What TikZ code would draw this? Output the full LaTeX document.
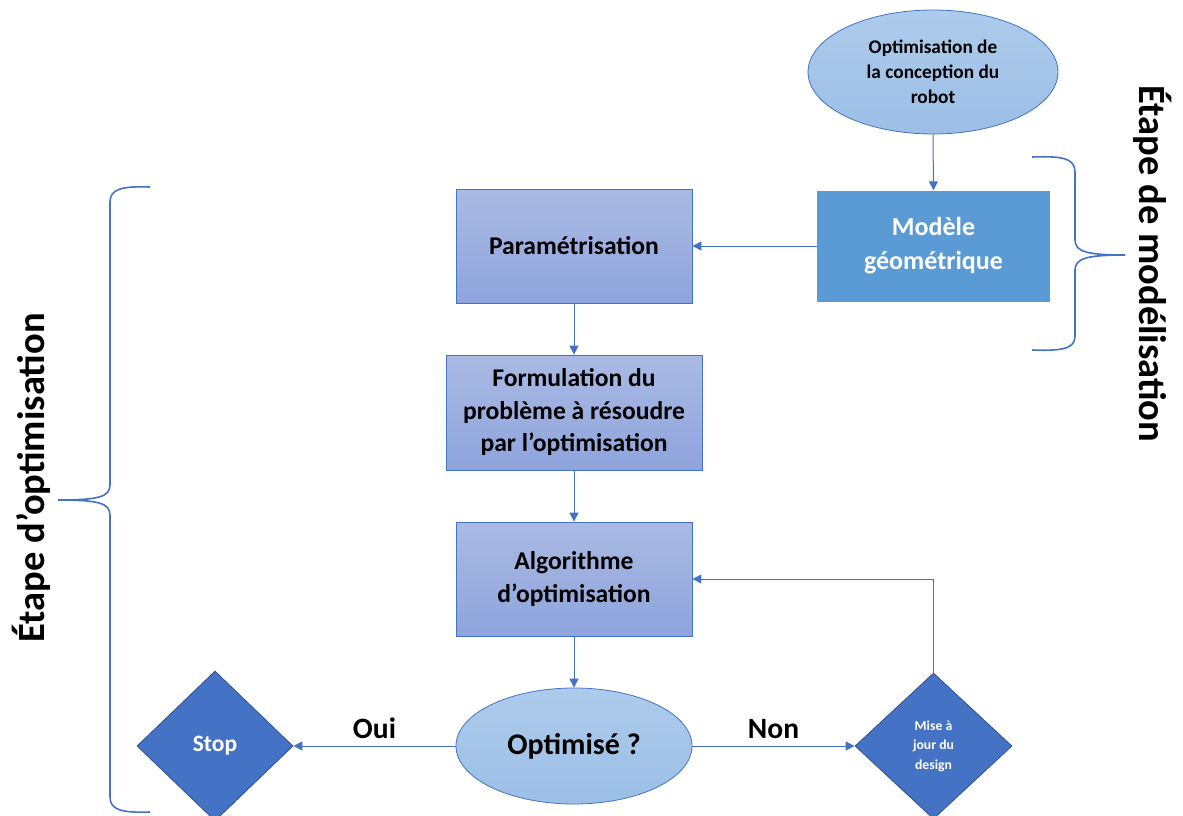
\documentclass[tikz,border=0pt]{standalone}
\usepackage{fontspec}
\setmainfont{Carlito}
\usetikzlibrary{shapes.geometric,arrows.meta}
\definecolor{lnblue}{HTML}{4472C4}
\definecolor{dkblue}{HTML}{2F528F}
\definecolor{midblue}{HTML}{5B9BD5}
\definecolor{ptop}{HTML}{AABAE3}
\definecolor{pbot}{HTML}{8EA4DC}
\definecolor{etop}{HTML}{ADCBEB}
\definecolor{ebot}{HTML}{9CBFE6}
\tikzset{
  conn/.style={draw=lnblue, line width=1pt, -{Triangle[length=9pt,width=9pt]}},
  procbox/.style={rectangle, draw=lnblue, line width=0.8pt, top color=ptop, bottom color=pbot, minimum width=236pt, minimum height=114pt, align=center, font=\bfseries\fontsize{25.6}{33}\selectfont, inner sep=2pt},
  ovalbox/.style={ellipse, draw=lnblue, line width=0.8pt, top color=etop, bottom color=ebot, inner sep=0pt, align=center},
  decbox/.style={diamond, draw=dkblue, line width=0.8pt, fill=lnblue, inner sep=0pt, text=white, align=center, font=\bfseries},
  bracestyle/.style={draw=lnblue, line width=1.6pt},
  lbl/.style={font=\bfseries\fontsize{29.5}{34}\selectfont},
  bigtxt/.style={font=\bfseries\fontsize{38.5}{44}\selectfont}
}
\begin{document}
\begin{tikzpicture}[x=1pt,y=-1pt]
\useasboundingbox (0,0) rectangle (1183,816);
% top ellipse
\node[ovalbox, minimum width=250pt, minimum height=124pt, font=\bfseries\fontsize{19.3}{25}\selectfont] (opt) at (933,72) {Optimisation de\\la conception du\\robot};
% modele box
\node[rectangle, fill=midblue, minimum width=233pt, minimum height=111pt, text=white, align=center, font=\bfseries\fontsize{26}{34}\selectfont] (mod) at (933.5,246) {Modèle\\géométrique};
% process boxes
\node[procbox] (par) at (574,246) {Paramétrisation};
\node[procbox, minimum width=256pt, minimum height=115pt, font=\bfseries\fontsize{25.6}{32.5}\selectfont] (form) at (574,412.5) {Formulation du\\problème à résoudre\\par l’optimisation};
\node[procbox] (alg) at (574,579) {Algorithme\\d’optimisation};
% decision ellipse
\node[ovalbox, minimum width=236pt, minimum height=116pt, font=\bfseries\fontsize{30}{34}\selectfont] (optq) at (574,746) {Optimisé ?};
% diamonds
\node[decbox, minimum width=156pt, minimum height=150pt, font=\bfseries\fontsize{23.5}{26}\selectfont] (stop) at (215,746) {Stop};
\node[decbox, minimum width=157pt, minimum height=146pt, font=\bfseries\fontsize{13.7}{19.5}\selectfont] (maj) at (933.5,746) {Mise à\\jour du\\design};
% connectors
\draw[conn] (opt.south) -- (mod.north);
\draw[conn] (mod.west) -- (par.east);
\draw[conn] (par.south) -- (form.north);
\draw[conn] (form.south) -- (alg.north);
\draw[conn] (alg.south) -- (optq.north);
\draw[conn] (optq.west) -- node[lbl, above=3pt] {Oui} (stop.east);
\draw[conn] (optq.east) -- node[lbl, above=3pt] {Non} (maj.west);
\coordinate (fb) at (maj.north |- alg.east);
\draw[conn] (maj.north) -- (fb) -- (alg.east);
% right brace
\coordinate (rtip) at (1125,255);
\draw[bracestyle] (1032,157) .. controls (1062,156) and (1075,158) .. (1075,172) -- (1075,240) .. controls (1075,252) and (1088,255) .. (rtip);
\draw[bracestyle] (1032,350) .. controls (1062,351) and (1075,349) .. (1075,336) -- (1075,270) .. controls (1075,258) and (1088,255) .. (rtip);
\node[bigtxt, rotate=-90] (etm) at (1153,264) {Étape de modélisation};
% left brace
\coordinate (ltip) at (58,500);
\draw[bracestyle] (150,187) .. controls (122,186) and (110,189) .. (110,202) -- (110,485) .. controls (110,497) and (98,500) .. (ltip);
\draw[bracestyle] (150,812) .. controls (122,813) and (110,810) .. (110,797) -- (110,515) .. controls (110,503) and (98,500) .. (ltip);
\node[bigtxt, rotate=90] (eto) at (31,478) {Étape d’optimisation};
\end{tikzpicture}
\end{document}
